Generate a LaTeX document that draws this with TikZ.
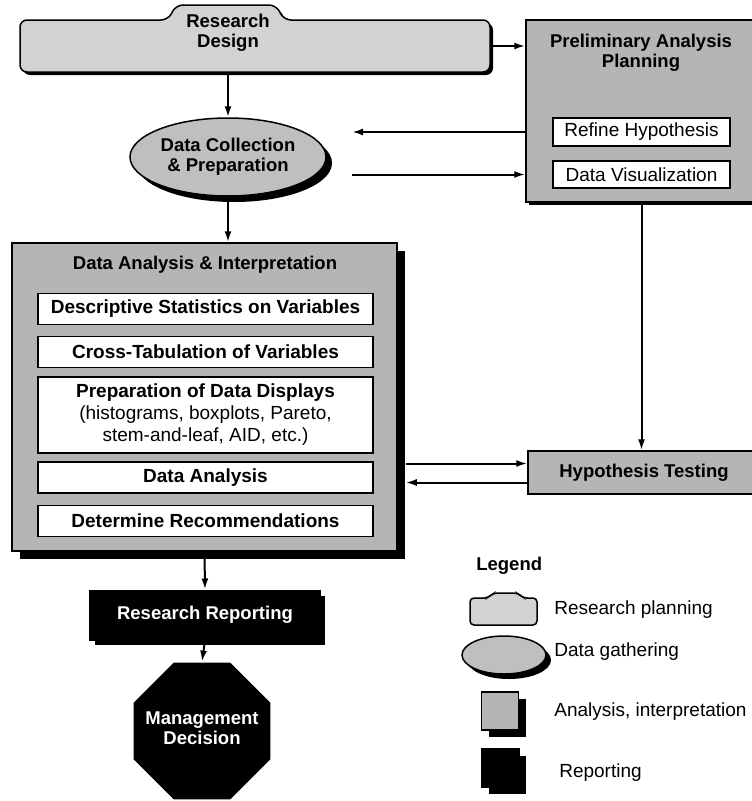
\documentclass[tikz,border=0pt]{standalone}
\usepackage{fontspec}
\setmainfont{Liberation Sans}
\usetikzlibrary{shapes.geometric,shadows,arrows.meta}

\tikzset{
  shadowed/.style={general shadow={fill=black,shadow xshift=#1,shadow yshift=-#1}},
  planfill/.style={fill=gray!35,draw=black,line width=1.5pt,rounded corners=7},
  gatherbox/.style={ellipse,fill=gray!50,draw=black,line width=1.5pt,inner sep=0pt,align=center},
  analysisbox/.style={rectangle,fill=gray!58,draw=black,line width=1.5pt,inner sep=0pt,align=center},
  reportbox/.style={rectangle,fill=black,draw=black,text=white,inner sep=0pt,align=center},
  heading/.style={font=\fontsize{18.5}{20}\selectfont\bfseries,align=center},
  stepbox/.style={rectangle,fill=white,draw=black,line width=1.2pt,minimum width=335,
    minimum height=31,inner sep=0pt,align=center,font=\fontsize{19}{22}\selectfont\bfseries},
  subbox/.style={rectangle,fill=white,draw=black,line width=1.2pt,minimum width=177,
    minimum height=28,inner sep=0pt,font=\fontsize{19}{22}\selectfont},
  legtext/.style={anchor=west,font=\fontsize{19}{22}\selectfont}
}

\begin{document}
\begin{tikzpicture}[x=1pt,y=-1pt,>={Latex[length=11pt,width=7pt]},line width=2pt]
\useasboundingbox (0,0) rectangle (752,801);

% Research design (tab shape)
\draw[planfill,shadowed=3pt] (20,20) -- (168,20) -- (176,5) -- (276,5) -- (284,20)
  -- (490,20) -- (490,72) -- (20,72) -- cycle;
\node[heading] (design) at (228,33) {Research\\Design};
\coordinate (designS) at (228,72);
\coordinate (designE) at (490,46);

% Preliminary analysis planning
\node[analysisbox,shadowed=3pt,minimum width=240,minimum height=182] (prelim) at (646,111) {};
\node[heading] (prelimT) at (641,53) {Preliminary Analysis\\Planning};
\node[subbox] (refine) at (641.5,132) {Refine Hypothesis};
\node[subbox,minimum height=27] (visual) at (641.5,174.5) {Data Visualization};

% Data collection
\node[gatherbox,shadowed=6pt,minimum width=196,minimum height=78,heading] (collect) at (228,157)
  {Data Collection\\\& Preparation};
\coordinate (gap) at (352,0);

% Data analysis & interpretation
\node[analysisbox,shadowed=8pt,minimum width=385,minimum height=308] (analysis) at (204.5,397) {};
\node[heading] (analysisT) at (205,265) {Data Analysis \& Interpretation};
\node[stepbox] (descr) at (205.5,309) {Descriptive Statistics on Variables};
\node[stepbox] (cross) at (205.5,352) {Cross-Tabulation of Variables};
\node[stepbox,minimum height=76] (displays) at (205.5,415) {Preparation of Data Displays\\
  {\mdseries (histograms, boxplots, Pareto,}\\{\mdseries stem-and-leaf, AID, etc.)}};
\node[stepbox] (dataan) at (205.5,477.5) {Data Analysis};
\node[stepbox] (recom) at (205.5,521) {Determine Recommendations};
\coordinate (shadowE) at ([xshift=8pt]analysis.east);

% Hypothesis testing
\node[analysisbox,minimum width=232,minimum height=43,heading] (hyp) at (644,472.5) {Hypothesis Testing};
\coordinate (hypIn) at ([yshift=9pt]hyp.west);
\coordinate (hypOut) at ([yshift=-10pt]hyp.west);

% Reporting and decision
\node[reportbox,shadowed=5pt,minimum width=230,minimum height=49,heading] (report) at (205,615)
  {Research Reporting};
\node[regular polygon,regular polygon sides=8,fill=black,minimum size=148,inner sep=0pt]
  (decision) at (202,731) {};
\node[heading,text=white] (decisionT) at (202,728) {Management\\Decision};

% Connectors
\draw[->] (designE) -- (designE -| prelim.west);
\draw[->] (designS) -- (collect.north);
\draw[->] (refine.west -| prelim.west) -- (refine.west -| gap);
\draw[->] (visual.west -| gap) -- (visual.west -| prelim.west);
\draw[->] (collect.south) -- (collect.south |- analysis.north);
\draw[->] (refine.south |- prelim.south) -- (refine.south |- hyp.north);
\draw[->] (hypIn -| shadowE) -- (hypIn);
\draw[->] (hypOut) -- (hypOut -| shadowE);
\draw[->] (analysis.south) -- (report.north);
\draw[->] (report.south) -- (decision.north);

% Legend
\node[heading,anchor=west] (legend) at (472,566) {Legend};
\draw[planfill,rounded corners=4] (470,598) -- (488,598) -- (493,593) -- (518,593) -- (523,598)
  -- (537,598) -- (537,625) -- (470,625) -- cycle;
\node[legtext] (legPlan) at (550,610) {Research planning};
\node[gatherbox,shadowed=5pt,minimum width=84,minimum height=38] (legGather) at (504,655) {};
\node[legtext] (legGatherT) at (550,652) {Data gathering};
\node[analysisbox,shadowed=7pt,minimum width=37,minimum height=38] (legAnalysis) at (500,711) {};
\node[legtext] (legAnalysisT) at (550,712) {Analysis, interpretation};
\node[reportbox,shadowed=7pt,minimum width=37,minimum height=38] (legReport) at (500,768) {};
\node[legtext] (legReportT) at (555,773) {Reporting};

\end{tikzpicture}
\end{document}
